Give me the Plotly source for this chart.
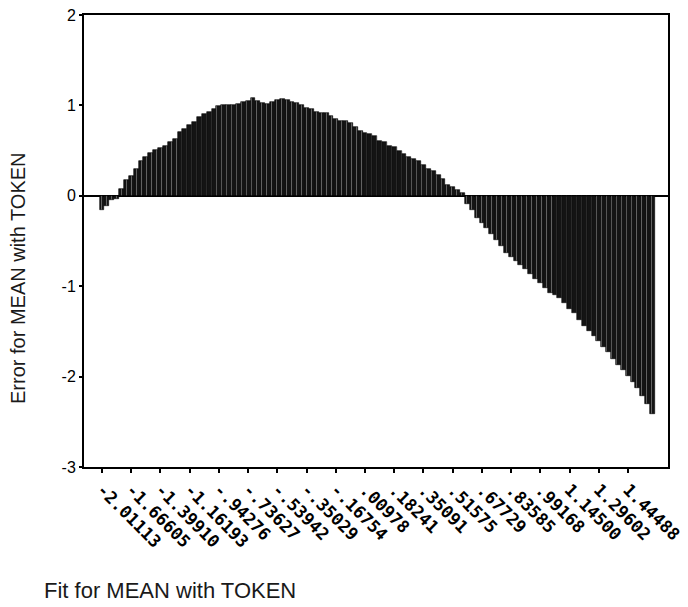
import plotly.graph_objects as go

# Error for MEAN with TOKEN, one bar per case, sorted by fit value
errors = [
    -0.16, -0.11, -0.05, -0.03, 0.08, 0.17, 0.22, 0.30, 0.38, 0.43,
    0.47, 0.51, 0.53, 0.55, 0.60, 0.63, 0.71, 0.74, 0.78, 0.82,
    0.87, 0.90, 0.93, 0.96, 0.99, 1.00, 1.00, 1.00, 1.02, 1.04,
    1.05, 1.08, 1.05, 1.03, 1.02, 1.04, 1.06, 1.07, 1.06, 1.04,
    1.03, 1.00, 0.97, 0.96, 0.93, 0.92, 0.92, 0.88, 0.85, 0.83,
    0.83, 0.80, 0.76, 0.72, 0.69, 0.68, 0.66, 0.61, 0.59, 0.55,
    0.54, 0.50, 0.46, 0.43, 0.41, 0.38, 0.34, 0.30, 0.27, 0.23,
    0.19, 0.12, 0.10, 0.06, 0.03, -0.09, -0.16, -0.24, -0.30, -0.36,
    -0.42, -0.49, -0.56, -0.63, -0.68, -0.72, -0.76, -0.81, -0.86, -0.92,
    -0.97, -1.02, -1.07, -1.10, -1.13, -1.19, -1.25, -1.30, -1.37, -1.44,
    -1.50, -1.55, -1.61, -1.67, -1.73, -1.80, -1.87, -1.93, -1.99, -2.06,
    -2.13, -2.22, -2.30, -2.41,
]
case_index = list(range(len(errors)))

# Fit values shown as tick labels (every 6th case)
tick_cases = list(range(0, 109, 6))
tick_labels = [
    "-2.01113", "-1.66605", "-1.39910", "-1.16193", "-.94276", "-.73627",
    "-.53942", "-.35029", "-.16754", ".00978", ".18241", ".35091",
    ".51575", ".67729", ".83585", ".99168", "1.14500", "1.29602", "1.44488",
]
y_ticks = [2, 1, 0, -1, -2, -3]

fig = go.Figure(go.Bar(
    x=case_index,
    y=errors,
    marker=dict(
        color="#1c1c1c",
        line=dict(color="#000000", width=0.6),
        pattern=dict(shape="|", fgcolor="#b0b0b0", bgcolor="#141414",
                     size=5, solidity=0.2),
    ),
    width=1.0,
))

W, H = 688, 607
L, R, T, B = 84, 20, 15, 140
pw, ph = W - L - R, H - T - B

def px_x(p):
    return (p - L) / pw

def px_y(p):
    return (H - B - p) / ph

fig.update_layout(
    width=W, height=H,
    margin=dict(l=L, r=R, t=T, b=B, autoexpand=False),
    paper_bgcolor="white", plot_bgcolor="white",
    bargap=0,
    showlegend=False,
    font=dict(family="Liberation Sans, Arial, sans-serif", color="#111111"),
    xaxis=dict(
        range=[-3.7, 116.2],
        tickmode="array", tickvals=tick_cases, ticktext=tick_labels,
        tickangle=45, automargin=False,
        tickfont=dict(family="DejaVu Sans Mono", size=17, color="#000000",
                      weight="bold"),
        ticks="outside", ticklen=4, tickwidth=2, tickcolor="#000000",
        showline=True, linecolor="#000000", linewidth=2, mirror=True,
        showgrid=False, zeroline=False,
    ),
    yaxis=dict(
        range=[-3, 2], automargin=False,
        tickmode="array", tickvals=y_ticks, ticktext=[str(v) for v in y_ticks],
        tickfont=dict(size=16, color="#000000"),
        ticks="outside", ticklen=3, tickwidth=2, tickcolor="#000000",
        showline=True, linecolor="#000000", linewidth=2, mirror=True,
        showgrid=False, zeroline=True, zerolinecolor="#000000", zerolinewidth=1.5,
    ),
    annotations=[
        dict(text="Error for MEAN with TOKEN", xref="paper", yref="paper",
             x=px_x(18), y=px_y(278), textangle=-90, showarrow=False,
             xanchor="center", yanchor="middle",
             font=dict(size=20, color="#1a1a1a")),
        dict(text="Fit for MEAN with TOKEN", xref="paper", yref="paper",
             x=px_x(42), y=px_y(590), showarrow=False,
             xanchor="left", yanchor="middle",
             font=dict(size=22, color="#1a1a1a")),
    ],
)

fig.write_html("out.html")
